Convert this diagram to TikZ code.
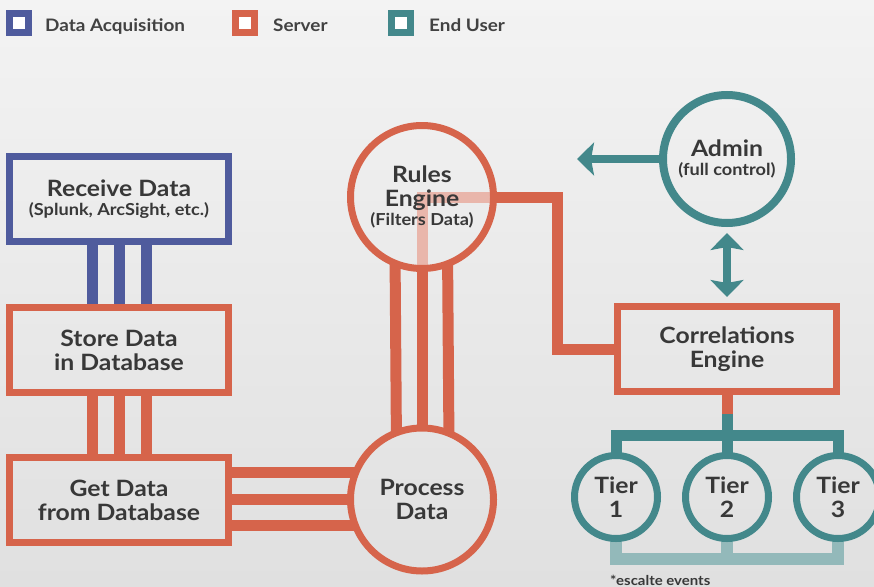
\documentclass[tikz,border=0pt]{standalone}
\usepackage{fontspec}
\setmainfont{Lato}[FakeStretch=1.1]
\usetikzlibrary{arrows.meta,calc}

\definecolor{acq}{HTML}{4F5B9D}
\definecolor{srv}{HTML}{D6644B}
\definecolor{usr}{HTML}{43888B}
\definecolor{usrlt}{HTML}{93B9BA}
\definecolor{srvlt}{HTML}{E9B6AB}
\definecolor{ink}{HTML}{383838}
\definecolor{bgtop}{HTML}{F3F3F3}
\definecolor{bgbot}{HTML}{E0E0E0}

\pgfdeclarelayer{bglayer}
\pgfdeclarelayer{wires}
\pgfsetlayers{bglayer,wires,main}

\newcommand{\mainsz}{\bfseries\fontsize{22.5}{24}\selectfont}
\newcommand{\subsz}{\bfseries\fontsize{16.5}{18}\selectfont}

\tikzset{
  lbl/.style={font=\mainsz, text=ink, align=center},
  box/.style={rectangle, draw, line width=7pt, minimum width=219pt,
    minimum height=85pt, inner sep=0pt, lbl},
  disc/.style={circle, draw, line width=7pt, minimum size=143pt,
    inner sep=0pt, lbl},
  tiernode/.style={circle, draw=usr, line width=7pt, minimum size=83pt,
    inner sep=0pt, lbl},
  legsq/.style={rectangle, line width=7pt, fill=white, minimum size=19pt,
    inner sep=0pt},
  legtxt/.style={anchor=base west, text=ink!95, inner sep=0pt,
    font=\bfseries\fontsize{17.2}{20}\selectfont},
  bar/.style={line width=11pt},
  tipshape/.tip={Stealth[length=17pt, width=33pt, inset=3pt]},
}

\begin{document}
\begin{tikzpicture}[x=1pt, y=-1pt]
  \useasboundingbox (0,0) rectangle (874,586);
  \begin{pgfonlayer}{bglayer}
    \shade[top color=bgtop, bottom color=bgbot] (0,0) rectangle (874,586);
  \end{pgfonlayer}

  % legend
  \node[legsq, draw=acq] (k1) at (19,23.5) {};
  \node[legtxt] (k1t) at (45,32) {Data Acquisition};
  \node[legsq, draw=srv] (k2) at (245,23.5) {};
  \node[legtxt] (k2t) at (273,32) {Server};
  \node[legsq, draw=usr] (k3) at (401,23.5) {};
  \node[legtxt] (k3t) at (429,32) {End User};

  % left column
  \node[box, draw=acq] (rd) at (119,199)
    {Receive Data\\[-5pt]{\subsz (Splunk, ArcSight, etc.)}};
  \node[box, draw=srv] (sd) at (119,350) {Store Data\\in Database};
  \node[box, draw=srv] (gd) at (119,500) {Get Data\\from Database};

  % server circles
  \node[disc, draw=srv] (re) at (422,197)
    {Rules\\Engine\\[-5pt]{\subsz (Filters Data)}};
  \node[disc, draw=srv] (pd) at (422,499.5) {Process\\Data};

  % correlation and end users
  \node[box, draw=srv] (ce) at (727,349) {Correlations\\Engine};
  \node[circle, draw=usr, line width=8pt, minimum size=128pt, inner sep=0pt, lbl]
    (ad) at (727,159) {Admin\\[-5pt]{\subsz (full control)}};
  \node[tiernode] (t1) at (616,497) {Tier\\1};
  \node[tiernode] (t2) at (727,497) {Tier\\2};
  \node[tiernode] (t3) at (838,497) {Tier\\3};

  \node[anchor=base west, inner sep=0pt, text=ink,
    font=\bfseries\fontsize{13.6}{15}\selectfont] (note) at (610,585)
    {*escalte events};

  \coordinate (elbow) at (557,349);
  \coordinate (hub) at (727,435.5);
  \coordinate (base) at (727,559);
  \coordinate (adtip) at (577,159);

  \begin{pgfonlayer}{wires}
    % triple links in the left column
    \foreach \dx in {-27,0,27} {
      \draw[bar, acq, shorten <=-3pt, shorten >=-3pt]
        ([xshift=\dx pt]rd.south) -- ([xshift=\dx pt]sd.north);
      \draw[bar, srv, shorten <=-3pt, shorten >=-3pt]
        ([xshift=\dx pt]sd.south) -- ([xshift=\dx pt]gd.north);
    }
    % triple links into the process circle
    \foreach \a in {159.2,180,200.8}
      \draw[bar, srv, shorten <=-3pt, shorten >=-4pt] (gd.east |- pd.\a) -- (pd.\a);
    \foreach \a/\b in {69.2/290.8, 90/270, 110.8/249.2}
      \draw[bar, srv, shorten <=-4pt, shorten >=-4pt] (pd.\a) -- (re.\b);

    % rules engine to correlations engine
    \draw[bar, srvlt, line join=miter] (re.south) -- (re.south |- re.east) -- (re.east);
    \draw[bar, srv, line join=miter, shorten <=-4pt, shorten >=-3pt]
      (re.east) -| (elbow) -- (ce.west);

    % correlations engine to the tiers
    \draw[bar, usr, line join=miter, shorten <=-3pt, shorten >=-3pt]
      (t1.north) |- (hub) -| (t3.north);
    \draw[bar, usr, shorten <=-3pt] (t2.north) -- (ce.south);
    \draw[bar, srv, shorten <=-3pt] (ce.south) -- ++(0,19);

    % escalation line under the tiers
    \draw[usrlt, line width=12pt, line join=miter, shorten <=-3pt, shorten >=-3pt]
      (t1.south) |- (base) -| (t3.south);
    \draw[usrlt, line width=12pt, shorten <=-3pt] (t2.south) -- (base);
  \end{pgfonlayer}

  % admin arrows
  \draw[usr, line width=8pt, -{tipshape}] (ad.west) -- (adtip);
  \draw[usr, line width=8pt, {tipshape}-{tipshape}, shorten <=6pt, shorten >=6pt]
    (ad.south) -- (ce.north);
\end{tikzpicture}
\end{document}
